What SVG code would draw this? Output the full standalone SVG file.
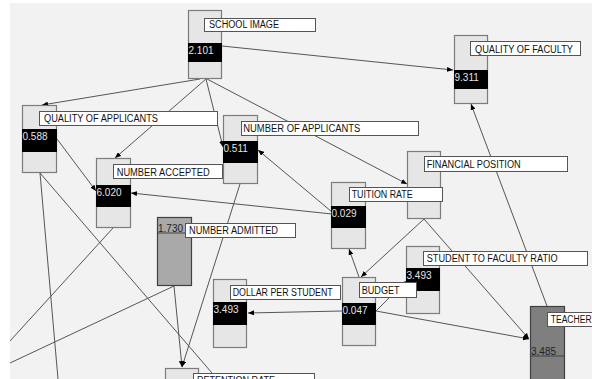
<svg xmlns="http://www.w3.org/2000/svg" width="592" height="379" viewBox="0 0 592 379">
<defs>
<style>
.box{fill:#e6e6e6;stroke:#7c7c7c;stroke-width:1.2}
.gbox{fill:#a9a9a9;stroke:#404040;stroke-width:1.2}
.dbox{fill:#7f7f7f;stroke:#404040;stroke-width:1.2}
.band{fill:#000}
.sep{stroke:#404040;stroke-width:1.2}
.val{font-family:"Liberation Sans",Arial,sans-serif;font-size:10px;fill:#e4e4e4}
.dval{font-family:"Liberation Sans",Arial,sans-serif;font-size:10px;fill:#222}
.lr{fill:#fff;stroke:#555;stroke-width:1}
.lt{font-family:"Liberation Sans",Arial,sans-serif;font-size:10px;fill:#111}
.edge{stroke:#555;stroke-width:1;fill:none}
.arr{marker-end:url(#ah)}
</style>
<marker id="ah" markerWidth="6" markerHeight="5" refX="6" refY="2.5" orient="auto" markerUnits="userSpaceOnUse">
<path d="M0,0 L6,2.5 L0,5 z" fill="#000"/>
</marker>
<clipPath id="cv"><rect x="10" y="3" width="582" height="376"/></clipPath>
</defs>
<rect x="0" y="0" width="592" height="379" fill="#fff"/>
<rect x="10" y="3" width="582" height="376" fill="#f2f2f2"/>
<g id="connectors" clip-path="url(#cv)">
<line class="edge arr" x1="222" y1="46" x2="453" y2="70"/>
<line class="edge arr" x1="200" y1="79" x2="42" y2="105"/>
<line class="edge arr" x1="206" y1="79" x2="115" y2="158"/>
<line class="edge arr" x1="206" y1="79" x2="223" y2="147"/>
<line class="edge arr" x1="207" y1="79" x2="407" y2="184"/>
<line class="edge arr" x1="332" y1="212" x2="258" y2="150"/>
<line class="edge arr" x1="332" y1="214" x2="131" y2="193"/>
<line class="edge arr" x1="57" y1="139" x2="96" y2="191"/>
<line class="edge arr" x1="547" y1="306" x2="471" y2="104"/>
<line class="edge arr" x1="424" y1="219" x2="361" y2="277"/>
<line class="edge arr" x1="424" y1="219" x2="529" y2="339"/>
<line class="edge arr" x1="376" y1="311" x2="529" y2="339"/>
<line class="edge arr" x1="359" y1="277" x2="349" y2="249"/>
<line class="edge arr" x1="342" y1="311" x2="248" y2="313"/>
<line class="edge arr" x1="376" y1="311" x2="406" y2="281"/>
<line class="edge" x1="113" y1="228" x2="10" y2="341"/>
<line class="edge" x1="40" y1="173" x2="58" y2="379"/>
<line class="edge" x1="40" y1="173" x2="218" y2="380"/>
<line class="edge" x1="174" y1="286" x2="10" y2="363"/>
<line class="edge arr" x1="174" y1="286" x2="182" y2="367"/>
<line class="edge arr" x1="240" y1="184" x2="182" y2="367"/>
<line class="edge arr" x1="530" y1="379" x2="547" y2="375"/>
</g>
<g id="school-image">
<rect class="box" x="188.5" y="10.5" width="33" height="68"/>
<rect class="band" x="188" y="43" width="34" height="19"/>
<text class="val" x="188.5" y="54">2.101</text>
<rect class="lr" x="204.5" y="18.5" width="111" height="13"/>
<text class="lt" x="209" y="28" textLength="70" lengthAdjust="spacingAndGlyphs">SCHOOL IMAGE</text>
</g>
<g id="quality-of-faculty">
<rect class="box" x="454.5" y="35.5" width="33" height="68"/>
<rect class="band" x="454" y="70" width="34" height="19"/>
<text class="val" x="454.5" y="81">9.311</text>
<rect class="lr" x="470.5" y="41.5" width="110" height="14"/>
<text class="lt" x="475" y="52.5" textLength="98" lengthAdjust="spacingAndGlyphs">QUALITY OF FACULTY</text>
</g>
<g id="quality-of-applicants">
<rect class="box" x="22.5" y="105.5" width="34" height="67"/>
<rect class="band" x="22" y="129" width="35" height="23"/>
<text class="val" x="22.5" y="140">0.588</text>
<rect class="lr" x="39.5" y="111.5" width="178" height="14"/>
<text class="lt" x="44" y="122.3" textLength="114" lengthAdjust="spacingAndGlyphs">QUALITY OF APPLICANTS</text>
</g>
<g id="number-of-applicants">
<rect class="box" x="223.5" y="115.5" width="34" height="68"/>
<rect class="band" x="223" y="141" width="35" height="22"/>
<text class="val" x="223.5" y="152">0.511</text>
<rect class="lr" x="241.5" y="121.5" width="177" height="14"/>
<text class="lt" x="243.3" y="132.3" textLength="117" lengthAdjust="spacingAndGlyphs">NUMBER OF APPLICANTS</text>
</g>
<g id="number-accepted">
<rect class="box" x="96.5" y="158.5" width="34" height="69"/>
<rect class="band" x="96" y="185" width="35" height="22"/>
<text class="val" x="96.5" y="196">6.020</text>
<rect class="lr" x="113.5" y="164.5" width="109" height="14"/>
<text class="lt" x="116.7" y="175.5" textLength="93" lengthAdjust="spacingAndGlyphs">NUMBER ACCEPTED</text>
</g>
<g id="number-admitted">
<rect class="gbox" x="157.5" y="217.5" width="34" height="68"/>
<line class="sep" x1="158" y1="233" x2="191" y2="233"/>
<text class="dval" x="158" y="231.5">1.730</text>
<rect class="lr" x="185.5" y="223.5" width="110" height="14"/>
<text class="lt" x="189" y="234.3" textLength="89" lengthAdjust="spacingAndGlyphs">NUMBER ADMITTED</text>
</g>
<g id="financial-position">
<rect class="box" x="407.5" y="151.5" width="33" height="67"/>
<rect class="lr" x="424.5" y="156.5" width="143" height="15"/>
<text class="lt" x="426.7" y="167.5" textLength="94" lengthAdjust="spacingAndGlyphs">FINANCIAL POSITION</text>
</g>
<g id="tuition-rate">
<rect class="box" x="331.5" y="182.5" width="34" height="66"/>
<rect class="band" x="331" y="206" width="35" height="22"/>
<text class="val" x="331.5" y="217">0.029</text>
<rect class="lr" x="349.5" y="187.5" width="93" height="14"/>
<text class="lt" x="351.7" y="198.3" textLength="61" lengthAdjust="spacingAndGlyphs">TUITION RATE</text>
</g>
<g id="student-to-faculty-ratio">
<rect class="box" x="406.5" y="246.5" width="33" height="67"/>
<rect class="band" x="406" y="268" width="34" height="23"/>
<text class="val" x="406.5" y="279">3.493</text>
<rect class="lr" x="423.5" y="251.5" width="164" height="14"/>
<text class="lt" x="426.7" y="262.3" textLength="131" lengthAdjust="spacingAndGlyphs">STUDENT TO FACULTY RATIO</text>
</g>
<g id="dollar-per-student">
<rect class="box" x="213.5" y="279.5" width="33" height="68"/>
<rect class="band" x="213" y="302" width="34" height="23"/>
<text class="val" x="213.5" y="313">3.493</text>
<rect class="lr" x="230.5" y="285.5" width="110" height="14"/>
<text class="lt" x="232.7" y="296.3" textLength="100" lengthAdjust="spacingAndGlyphs">DOLLAR PER STUDENT</text>
</g>
<g id="budget">
<rect class="box" x="342.5" y="277.5" width="33" height="68"/>
<rect class="band" x="342" y="303" width="34" height="22"/>
<text class="val" x="342.5" y="314">0.047</text>
<rect class="lr" x="359.5" y="282.5" width="57" height="15"/>
<text class="lt" x="361.7" y="293.5" textLength="38" lengthAdjust="spacingAndGlyphs">BUDGET</text>
</g>
<g id="teacher">
<rect class="dbox" x="530.5" y="306.5" width="34" height="80"/>
<line class="sep" x1="531" y1="356" x2="564" y2="356"/>
<text class="dval" x="531" y="354.5">3.485</text>
<rect class="lr" x="547.5" y="312.5" width="60" height="14"/>
<text class="lt" x="550.7" y="323.3" textLength="41" lengthAdjust="spacingAndGlyphs">TEACHER</text>
</g>
<g id="retention-rate">
<rect class="box" x="165.5" y="368.5" width="33" height="30"/>
<rect class="lr" x="193.5" y="373.5" width="121" height="14"/>
<text class="lt" x="197" y="384.3" textLength="78" lengthAdjust="spacingAndGlyphs">RETENTION RATE</text>
</g>
</svg>
